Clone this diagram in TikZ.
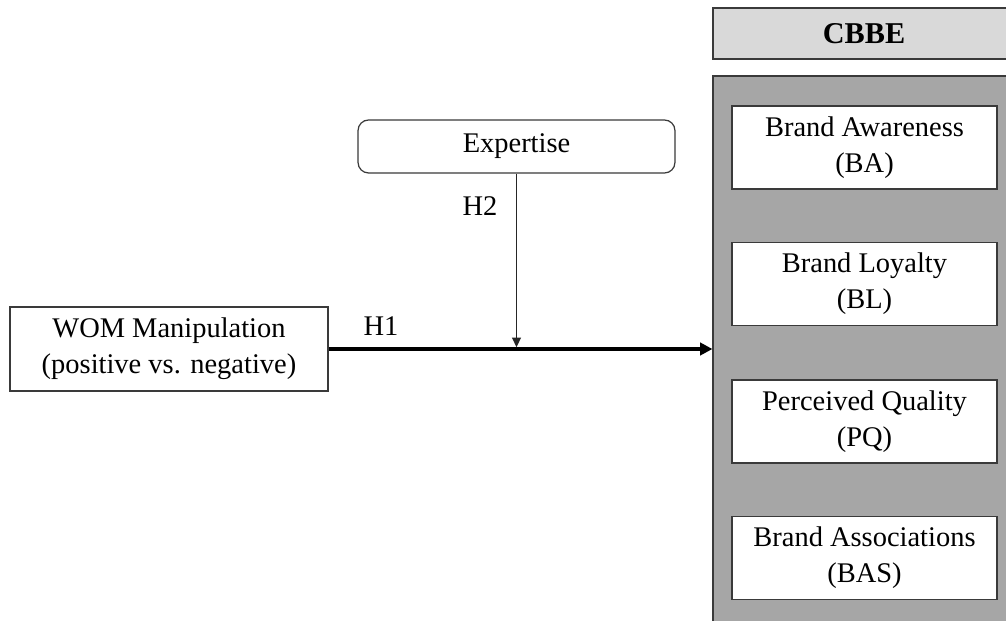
\documentclass[tikz,border=0pt]{standalone}
\usepackage{fontspec}
\setmainfont{Liberation Serif}
\usetikzlibrary{arrows.meta}
\definecolor{edge}{HTML}{3A3A3A}
\definecolor{lightfill}{HTML}{D9D9D9}
\definecolor{darkfill}{HTML}{A6A6A6}
\begin{document}
\begin{tikzpicture}[x=0.02cm,y=-0.02cm,
  txt/.style={font=\fontsize{16.2}{20.5}\selectfont, align=center, inner sep=0pt},
  box/.style={txt, draw=edge, line width=0.7pt, fill=white},
  dim/.style={box, minimum width=5.3cm, minimum height=1.66cm},
  lbl/.style={font=\fontsize{16.2}{20}\selectfont, inner sep=0pt}]
\useasboundingbox (0,0) rectangle (1006,621);
\clip (0,0) rectangle (1006,621);
\node[box, fill=lightfill, minimum width=6.04cm, minimum height=1.02cm, font=\fontsize{17.2}{20}\selectfont\bfseries] (cbbe) at (864,33.5) {CBBE};
\node[draw=edge, line width=0.7pt, fill=darkfill, minimum width=6.04cm, minimum height=11.28cm, inner sep=0pt] (grp) at (864,358) {};
\node[dim] (ba) at (864.5,147.5) {Brand Awareness\\(BA)};
\node[dim] (bl) at (864.5,284) {Brand Loyalty\\(BL)};
\node[dim] (pq) at (864.5,421.5) {Perceived Quality\\(PQ)};
\node[dim] (bas) at (864.5,558) {Brand Associations\\(BAS)};
\node[box, minimum width=6.36cm, minimum height=1.68cm] (wom) at (169,349) {WOM Manipulation\\(positive vs. negative)};
\node[box, rounded corners=6pt, minimum width=6.34cm, minimum height=1.06cm] (exp) at (516.5,146.5) {Expertise};
\coordinate (hit) at (exp.south |- wom.east);
\draw[black, line width=2.2pt, -{Triangle[length=7pt,width=7pt]}] (wom.east) -- (grp.west |- wom.east);
\draw[black!85, line width=1pt, -{Triangle[length=5.5pt,width=5pt]}] (exp.south) -- ([yshift=1pt]hit);
\node[lbl] (h1) at (381,326) {H1};
\node[lbl] (h2) at (480,206) {H2};
\end{tikzpicture}
\end{document}
